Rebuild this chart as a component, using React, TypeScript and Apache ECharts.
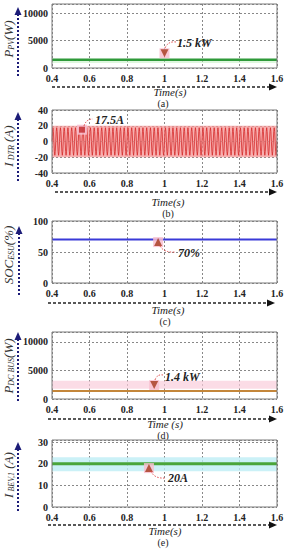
import React, { useEffect, useRef } from 'react';
import * as echarts from 'echarts';

// ---- data ----
const timeSpan = [0.4, 1.6];
const timeTickLabels = ['0.4', '0.6', '0.8', '1', '1.2', '1.4', '1.6'];
const pPV = [1500, 1500];            // W
const iDtrCycle = [0, 12.4, 17.5, 12.4, 0, -12.4, -17.5, -12.4]; // A, one 50 Hz cycle
const iDtrPeriod = 0.02;             // s
const socEsu = [70, 70];             // %
const pDcBus = [1400, 1400];         // W
const iBev1 = [20, 20];              // A
// annotation markers [time, value]
const markPV = [1.0, 2700];
const markDTR = [0.56, 15];
const markSOC = [0.966, 66];
const markDC = [0.945, 2450];
const markBEV = [0.917, 18];
const annotTexts = ['1.5 kW', '17.5A', '70%', '1.4 kW', '20A'];
const panelLetters = ['(a)', '(b)', '(c)', '(d)', '(e)'];
const timeTitles = ['Time(s)', 'Time(s)', 'Time(s)', 'Time (s)', 'Time(s)'];

const serif = 'Liberation Serif';

function buildDtr() {
  const pts: number[][] = [];
  const n = iDtrCycle.length;
  const step = iDtrPeriod / n;
  let k = 0;
  for (let t = timeSpan[0]; t <= timeSpan[1] + 1e-9; t += step) {
    pts.push([+t.toFixed(5), iDtrCycle[k % n]]);
    k++;
  }
  return pts;
}

const line2 = (vals: number[]) => [[timeSpan[0], vals[0]], [timeSpan[1], vals[1]]];

export default function App() {
  const ref = useRef<HTMLDivElement>(null);
  useEffect(() => {
    const chart = echarts.init(ref.current!, null, { renderer: 'svg' });
    const grids = [
      { left: 52, top: 4, width: 225, height: 64 },
      { left: 52, top: 110, width: 225, height: 63 },
      { left: 52, top: 221, width: 225, height: 62 },
      { left: 52, top: 332, width: 225, height: 67 },
      { left: 52, top: 440, width: 225, height: 67 },
    ];
    const yr = [
      [0, 11700, 5000],
      [-40, 40, 20],
      [0, 100, 50],
      [0, 11750, 5000],
      [0, 31, 10],
    ];
    const xAxis = grids.map((_, i) => ({
      type: 'value', gridIndex: i, min: timeSpan[0], max: timeSpan[1], interval: 0.2,
      axisLine: { show: false }, axisTick: { show: false },
      axisLabel: {
        margin: 5, fontFamily: serif, fontWeight: 'bold', fontSize: 10, color: '#222',
        formatter: (v: number) => {
          const idx = Math.round((v - timeSpan[0]) / 0.2);
          return timeTickLabels[idx] ?? '';
        },
      },
      splitLine: { show: true, lineStyle: { color: '#888', type: [2, 2], width: 1 } },
    }));
    const yAxis = grids.map((_, i) => ({
      type: 'value', gridIndex: i, min: yr[i][0], max: yr[i][1], interval: yr[i][2],
      axisLine: { show: false }, axisTick: { show: false },
      axisLabel: {
        margin: 4, fontFamily: serif, fontWeight: 'bold', fontSize: 10, color: '#222',
        showMaxLabel: i === 1 || i === 2,
        formatter: (v: number) => String(v),
      },
      splitLine: { show: true, lineStyle: { color: '#888', type: [2, 2], width: 1 } },
    }));
    const marker = (gi: number, p: number[], sym: string, rot: number) => [
      {
        type: 'scatter', xAxisIndex: gi, yAxisIndex: gi, data: [p], symbol: 'rect', symbolSize: 10,
        itemStyle: { color: '#f8bfd0', opacity: 0.85 }, z: 3, silent: true,
      },
      {
        type: 'scatter', xAxisIndex: gi, yAxisIndex: gi, data: [p], symbol: sym, symbolSize: sym === 'rect' ? 6 : 8,
        symbolRotate: rot, itemStyle: { color: sym === 'rect' ? '#c0282a' : '#a5381c' }, z: 4, silent: true,
      },
    ];
    const series: any[] = [
      {
        type: 'line', xAxisIndex: 0, yAxisIndex: 0, data: line2(pPV), symbol: 'none',
        lineStyle: { color: '#2f9a3a', width: 2.5 },
        markArea: { silent: true, itemStyle: { color: 'rgba(190,240,190,0.5)' }, data: [[{ yAxis: 900 }, { yAxis: 1300 }]] },
      },
      ...marker(0, markPV, 'triangle', 180),
      {
        type: 'line', xAxisIndex: 1, yAxisIndex: 1, data: buildDtr(), symbol: 'none',
        lineStyle: { color: '#d42a2a', width: 0.8 },
        markArea: { silent: true, itemStyle: { color: 'rgba(246,150,150,0.75)' }, data: [[{ yAxis: -20 }, { yAxis: 20 }]] },
      },
      ...marker(1, markDTR, 'rect', 0),
      {
        type: 'line', xAxisIndex: 2, yAxisIndex: 2, data: line2(socEsu), symbol: 'none',
        lineStyle: { color: '#3a3ad8', width: 2 },
      },
      ...marker(2, markSOC, 'triangle', 0),
      {
        type: 'line', xAxisIndex: 3, yAxisIndex: 3, data: line2(pDcBus), symbol: 'none',
        lineStyle: { color: '#c4863a', width: 2 },
        markArea: { silent: true, itemStyle: { color: 'rgba(250,205,220,0.7)' }, data: [[{ yAxis: 1800 }, { yAxis: 3200 }]] },
      },
      ...marker(3, markDC, 'triangle', 180),
      {
        type: 'line', xAxisIndex: 4, yAxisIndex: 4, data: line2(iBev1), symbol: 'none',
        lineStyle: { color: '#4aa53a', width: 3 },
        markArea: { silent: true, itemStyle: { color: 'rgba(190,238,245,0.8)' }, data: [[{ yAxis: 16.5 }, { yAxis: 23 }]] },
      },
      ...marker(4, markBEV, 'triangle', 0),
    ];

    const g: any[] = [];
    // frames
    grids.forEach((gr) => {
      g.push({ type: 'rect', shape: { x: gr.left, y: gr.top, width: gr.width, height: gr.height },
        style: { fill: 'none', stroke: '#7a7a7a', lineWidth: 1 }, z: 10, silent: true });
    });
    // vertical navy arrows
    const vArr = [[18, 9, 78], [18, 114, 183], [19, 228, 295], [18, 334, 402], [18, 444, 512]];
    vArr.forEach(([x, y0, y1]) => {
      g.push({ type: 'line', shape: { x1: x, y1: y0 + 5, x2: x, y2: y1 }, style: { stroke: '#1c1c78', lineWidth: 2, lineDash: [2, 2] } });
      g.push({ type: 'polygon', shape: { points: [[x, y0 - 2], [x - 3.5, y0 + 6], [x + 3.5, y0 + 6]] }, style: { fill: '#1c1c78' } });
    });
    // horizontal black arrows
    const hArr = [[87, 52, 277], [192, 55, 277], [303, 48, 275], [419, 48, 277], [525, 48, 277]];
    hArr.forEach(([y, x0, x1]) => {
      g.push({ type: 'line', shape: { x1: x0, y1: y, x2: x1 - 5, y2: y }, style: { stroke: '#222', lineWidth: 1.5, lineDash: [3, 2] } });
      g.push({ type: 'polygon', shape: { points: [[x1, y], [x1 - 8, y - 3.5], [x1 - 8, y + 3.5]] }, style: { fill: '#111' } });
    });
    // time titles and panel letters
    const tPos = [[170, 92, 163, 103], [168, 202, 168, 213], [168, 310, 165, 321], [165, 424, 163, 435], [165, 531, 163, 542]];
    tPos.forEach(([tx, ty, lx, ly], i) => {
      g.push({ type: 'text', x: tx, y: ty, style: { text: timeTitles[i], fontFamily: serif, fontStyle: 'italic', fontSize: 11, fill: '#222', align: 'center', verticalAlign: 'middle' } });
      g.push({ type: 'text', x: lx, y: ly + 0.5, style: { text: panelLetters[i], fontFamily: serif, fontSize: 10, fill: '#222', align: 'center', verticalAlign: 'middle' } });
    });
    // y-axis titles
    const rich = {
      m: { fontFamily: serif, fontStyle: 'italic', fontSize: 13, fill: '#333' },
      s: { fontFamily: serif, fontStyle: 'italic', fontSize: 8, fill: '#333', padding: [7, 0, 0, 0] },
    };
    const yTitles = [
      [8, 39, '{m|P}{s|PV}{m|(W)}'],
      [8, 146, '{m|I}{s| DTR}{m| (A)}'],
      [8, 255, '{m|SOC}{s|ESU}{m|(%)}'],
      [8, 366, '{m|P}{s|DC BUS}{m|(W)}'],
      [8, 475, '{m|I}{s| BEV,1}{m| (A)}'],
    ];
    yTitles.forEach(([x, y, t]) => {
      g.push({ type: 'text', x, y, rotation: Math.PI / 2, style: { text: t, rich, align: 'center', verticalAlign: 'middle' } });
    });
    // annotation leaders & texts
    const ann = [
      { c: [165, 48, 168, 41, 176, 42], t: [177, 43] },
      { c: [84, 126, 86, 119, 93, 119], t: [95, 120] },
      { c: [160, 246, 164, 253, 176, 252], t: [178, 253] },
      { c: [155, 380, 157, 374, 163, 375], t: [165, 377] },
      { c: [151, 471, 154, 479, 166, 478], t: [168, 478] },
    ];
    ann.forEach((a, i) => {
      g.push({ type: 'bezierCurve', shape: { x1: a.c[0], y1: a.c[1], cpx1: a.c[2], cpy1: a.c[3], x2: a.c[4], y2: a.c[5] },
        style: { stroke: '#e04848', lineWidth: 1, lineDash: [1.5, 1.5], fill: 'none' }, z: 20 });
      g.push({ type: 'text', x: a.t[0], y: a.t[1], z: 20, style: { text: annotTexts[i], fontFamily: serif, fontStyle: 'italic', fontWeight: 'bold', fontSize: 12, fill: '#222', align: 'left', verticalAlign: 'middle' } });
    });

    chart.setOption({
      animation: false,
      backgroundColor: '#fff',
      grid: grids,
      xAxis, yAxis, series, graphic: g,
    });
    return () => chart.dispose();
  }, []);
  return <div ref={ref} style={{ position: 'fixed', left: 0, top: 0, width: 288, height: 550 }} />;
}
